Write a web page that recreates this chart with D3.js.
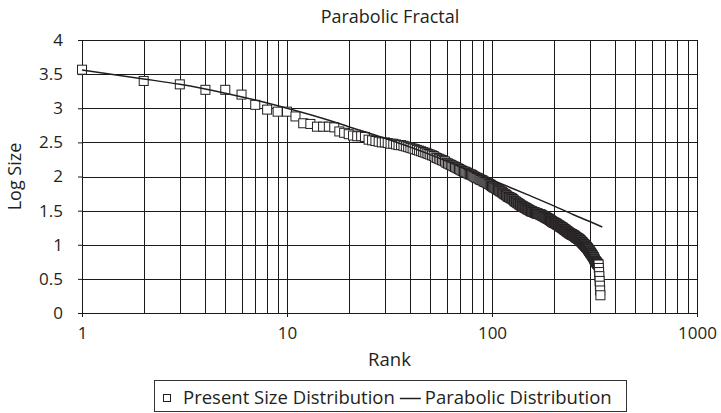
<!DOCTYPE html>
<html>
<head>
<meta charset="utf-8">
<script src="https://cdn.jsdelivr.net/npm/d3@7"></script>
<style>
  body { margin: 0; background: #fff; }
  svg { font-family: "Open Sans", sans-serif; }
  .grid line { stroke: #1a1a1a; stroke-width: 1; shape-rendering: crispEdges; }
</style>
</head>
<body>
<div id="chart"></div>
<script>
// present size distribution, one value per rank (rank = index + 1)
const presentSize = [
  3.565, 3.40, 3.35, 3.27, 3.27, 3.20, 3.05, 2.98, 2.95, 2.95,
  2.88, 2.78, 2.77, 2.73, 2.73, 2.73, 2.72, 2.66, 2.64, 2.62,
  2.60, 2.59, 2.59, 2.58, 2.54, 2.53, 2.52, 2.51, 2.50, 2.50,
  2.49, 2.48, 2.48, 2.47, 2.46, 2.46, 2.45, 2.44, 2.43, 2.42,
  2.41, 2.40, 2.39, 2.38, 2.37, 2.36, 2.35, 2.34, 2.33, 2.32,
  2.31, 2.30, 2.28, 2.27, 2.26, 2.25, 2.24, 2.23, 2.22, 2.20,
  2.19, 2.18, 2.17, 2.16, 2.15, 2.14, 2.13, 2.12, 2.11, 2.10,
  2.09, 2.08, 2.07, 2.07, 2.06, 2.05, 2.04, 2.03, 2.03, 2.02,
  2.01, 2.00, 1.99, 1.98, 1.98, 1.97, 1.96, 1.95, 1.95, 1.94,
  1.93, 1.92, 1.92, 1.91, 1.90, 1.89, 1.89, 1.88, 1.87, 1.86,
  1.85, 1.84, 1.84, 1.83, 1.82, 1.81, 1.81, 1.80, 1.79, 1.78,
  1.78, 1.77, 1.76, 1.75, 1.74, 1.74, 1.73, 1.72, 1.71, 1.70,
  1.70, 1.69, 1.69, 1.68, 1.68, 1.67, 1.66, 1.65, 1.64, 1.63,
  1.63, 1.62, 1.61, 1.61, 1.60, 1.59, 1.59, 1.58, 1.57, 1.57,
  1.56, 1.56, 1.55, 1.55, 1.54, 1.54, 1.53, 1.53, 1.52, 1.52,
  1.51, 1.51, 1.50, 1.50, 1.49, 1.49, 1.49, 1.48, 1.48, 1.48,
  1.47, 1.47, 1.47, 1.46, 1.46, 1.46, 1.46, 1.45, 1.45, 1.45,
  1.45, 1.44, 1.44, 1.44, 1.43, 1.43, 1.42, 1.42, 1.42, 1.41,
  1.41, 1.40, 1.40, 1.40, 1.39, 1.39, 1.38, 1.38, 1.38, 1.37,
  1.37, 1.36, 1.36, 1.35, 1.35, 1.34, 1.34, 1.33, 1.33, 1.33,
  1.32, 1.32, 1.32, 1.31, 1.31, 1.31, 1.30, 1.30, 1.29, 1.29,
  1.29, 1.28, 1.28, 1.27, 1.27, 1.27, 1.26, 1.26, 1.25, 1.25,
  1.25, 1.24, 1.24, 1.23, 1.23, 1.22, 1.22, 1.22, 1.21, 1.21,
  1.20, 1.20, 1.19, 1.19, 1.19, 1.18, 1.18, 1.17, 1.17, 1.17,
  1.16, 1.16, 1.16, 1.15, 1.15, 1.15, 1.15, 1.14, 1.14, 1.14,
  1.13, 1.13, 1.13, 1.12, 1.12, 1.11, 1.11, 1.11, 1.10, 1.10,
  1.10, 1.09, 1.09, 1.09, 1.08, 1.08, 1.08, 1.07, 1.07, 1.06,
  1.06, 1.05, 1.05, 1.04, 1.04, 1.03, 1.03, 1.02, 1.02, 1.01,
  1.01, 1.00, 1.00, 0.99, 0.99, 0.98, 0.98, 0.97, 0.97, 0.96,
  0.96, 0.95, 0.95, 0.94, 0.93, 0.93, 0.92, 0.91, 0.91, 0.90,
  0.89, 0.89, 0.88, 0.88, 0.87, 0.86, 0.86, 0.85, 0.84, 0.84,
  0.83, 0.82, 0.82, 0.81, 0.80, 0.79, 0.78, 0.77, 0.76, 0.76,
  0.75, 0.75, 0.74, 0.74, 0.73, 0.73, 0.72, 0.72, 0.71, 0.71,
  0.71, 0.66, 0.60, 0.54, 0.47, 0.40, 0.33, 0.26,
];

// parabolic fit
const parabolicRank = [1, 2, 3, 5, 7, 10, 15, 20, 30, 50, 70, 100, 150, 200, 250, 300, 345];
const parabolicSize = [3.56, 3.43, 3.35, 3.22, 3.12, 3.00, 2.85, 2.73, 2.56, 2.32, 2.14, 1.95, 1.73, 1.57, 1.44, 1.34, 1.26];

const xTickLabels = [1, 10, 100, 1000];
const yTickLabels = [0, 0.5, 1, 1.5, 2, 2.5, 3, 3.5, 4];

const width = 721;
const height = 413;
const margin = { top: 40, right: 24, bottom: 100, left: 82 };
const tickFont = "17px";
const labelFont = "18px";
const legendFont = "18.5px";
const ink = "#231f20";

const svg = d3
  .select("#chart")
  .append("svg")
  .attr("width", width)
  .attr("height", height);

const x = d3
  .scaleLog()
  .domain([1, 1000])
  .range([margin.left, width - margin.right]);

const y = d3
  .scaleLinear()
  .domain([0, 4])
  .range([height - margin.bottom, margin.top]);

// vertical grid: every 1..9 per decade
const xGridValues = [];
[1, 10, 100].forEach((d) => {
  for (let i = 1; i < 10; i++) xGridValues.push(d * i);
});
xGridValues.push(1000);

const grid = svg.append("g").attr("class", "grid");
grid
  .selectAll(".vx")
  .data(xGridValues)
  .join("line")
  .attr("x1", (d) => Math.round(x(d)) + 0.5)
  .attr("x2", (d) => Math.round(x(d)) + 0.5)
  .attr("y1", y(4))
  .attr("y2", y(0));
grid
  .selectAll(".hy")
  .data(yTickLabels)
  .join("line")
  .attr("x1", x(1))
  .attr("x2", x(1000))
  .attr("y1", (d) => Math.round(y(d)) + 0.5)
  .attr("y2", (d) => Math.round(y(d)) + 0.5);

const yAxis = d3.axisLeft(y).tickValues(yTickLabels).tickSize(4).tickPadding(15).tickFormat((d) => d);
const xAxis = d3.axisBottom(x).tickValues(xTickLabels).tickSize(4).tickPadding(10).tickFormat((d) => d);

const yG = svg
  .append("g")
  .attr("transform", `translate(${margin.left},0)`)
  .call(yAxis);
const xG = svg
  .append("g")
  .attr("transform", `translate(0,${height - margin.bottom})`)
  .call(xAxis);

[yG, xG].forEach((g) => {
  g.select(".domain").attr("stroke", "#1a1a1a");
  g.selectAll(".tick line").attr("stroke", "#1a1a1a");
  g.selectAll(".tick text")
    .attr("fill", ink)
    .style("font-size", tickFont)
    .style("font-family", '"Open Sans", sans-serif');
});

// markers
svg
  .append("g")
  .selectAll("rect")
  .data(presentSize)
  .join("rect")
  .attr("x", (d, i) => x(i + 1) - 4.5)
  .attr("y", (d) => y(d) - 4.5)
  .attr("width", 9)
  .attr("height", 9)
  .attr("fill", "#fff")
  .attr("stroke", ink)
  .attr("stroke-width", 1);

// parabolic line
svg
  .append("path")
  .datum(parabolicRank.map((r, i) => [r, parabolicSize[i]]))
  .attr("fill", "none")
  .attr("stroke", ink)
  .attr("stroke-width", 1.5)
  .attr(
    "d",
    d3
      .line()
      .curve(d3.curveMonotoneX)
      .x((d) => x(d[0]))
      .y((d) => y(d[1]))
  );

// titles
svg
  .append("text")
  .attr("x", 390)
  .attr("y", 23)
  .attr("text-anchor", "middle")
  .style("font-size", labelFont)
  .attr("fill", ink)
  .text("Parabolic Fractal");

svg
  .append("text")
  .attr("x", (x(1) + x(1000)) / 2)
  .attr("y", 366)
  .attr("text-anchor", "middle")
  .style("font-size", legendFont)
  .attr("fill", ink)
  .text("Rank");

svg
  .append("text")
  .attr("transform", `translate(21,${(y(0) + y(4)) / 2}) rotate(-90)`)
  .attr("text-anchor", "middle")
  .style("font-size", labelFont)
  .attr("fill", ink)
  .text("Log Size");

// legend
const legend = svg.append("g");
legend
  .append("rect")
  .attr("x", 154.5)
  .attr("y", 380.5)
  .attr("width", 472)
  .attr("height", 31)
  .attr("fill", "#fff")
  .attr("stroke", "#333");
legend
  .append("rect")
  .attr("x", 163.5)
  .attr("y", 394.5)
  .attr("width", 7)
  .attr("height", 7)
  .attr("fill", "#fff")
  .attr("stroke", ink);
const firstLabel = legend
  .append("text")
  .attr("x", 183)
  .attr("y", 404)
  .style("font-size", legendFont)
  .attr("fill", ink)
  .text("Present Size Distribution");
const dashX = 183 + firstLabel.node().getComputedTextLength() + 5;
legend
  .append("line")
  .attr("x1", dashX)
  .attr("x2", dashX + 21)
  .attr("y1", 398.5)
  .attr("y2", 398.5)
  .attr("stroke", ink)
  .attr("stroke-width", 1.5);
legend
  .append("text")
  .attr("x", dashX + 25)
  .attr("y", 404)
  .style("font-size", legendFont)
  .attr("fill", ink)
  .text("Parabolic Distribution");
</script>
</body>
</html>
